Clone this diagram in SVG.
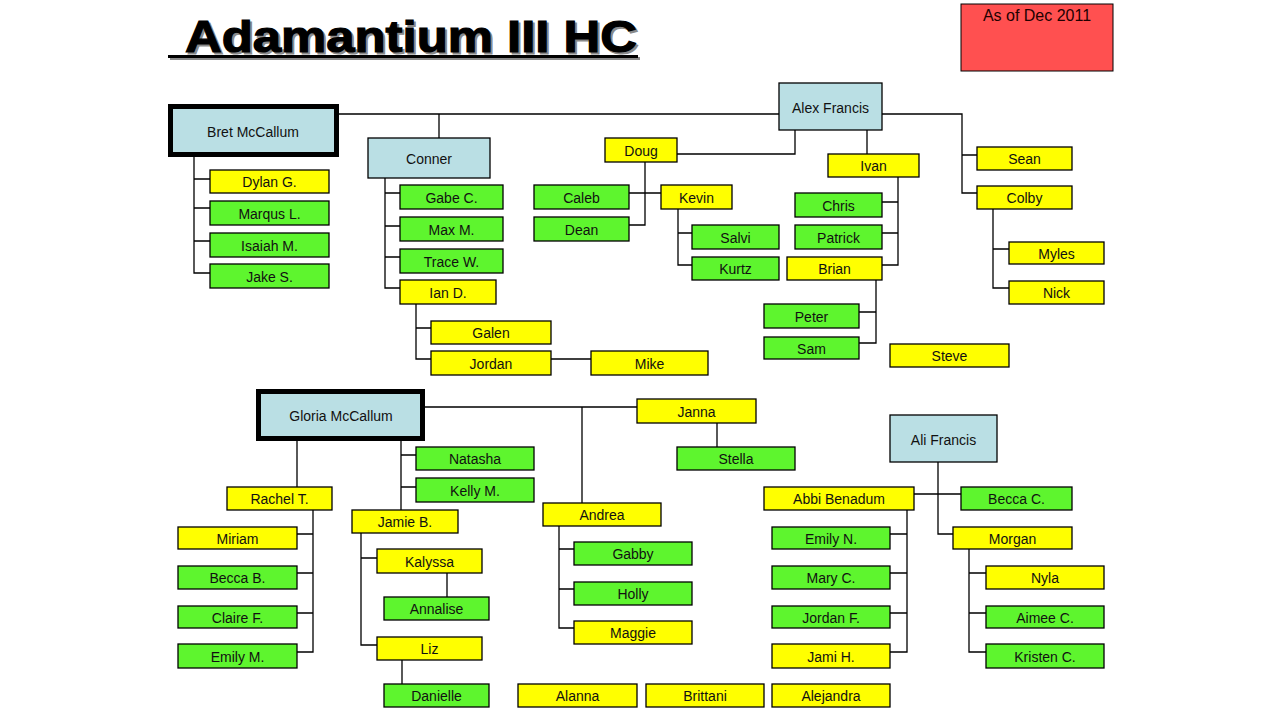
<svg xmlns="http://www.w3.org/2000/svg" width="1280" height="720" viewBox="0 0 1280 720">
<style>
rect.n{stroke:#000;stroke-width:1.3}
.y{fill:#FFFF00}.g{fill:#5EF52E}.b{fill:#BADFE4}
.thick{stroke:#000;stroke-width:5;fill:#BADFE4}
text.t{font-family:"Liberation Sans",Arial,sans-serif;font-size:14px;text-anchor:middle;fill:#111}
#connectors path{fill:none;stroke:#000;stroke-width:1.3}
</style>
<rect width="1280" height="720" fill="#fff"/>
<g id="title">
<text x="187" y="54" font-family="Liberation Sans,Arial,sans-serif" font-size="44" font-weight="bold" textLength="452" lengthAdjust="spacingAndGlyphs" fill="#8a8a8a" stroke="#8a8a8a" stroke-width="1.2">Adamantium III HC</text>
<rect x="170" y="57" width="470" height="3" fill="#8a8a8a"/>
<text x="185" y="52" font-family="Liberation Sans,Arial,sans-serif" font-size="44" font-weight="bold" textLength="452" lengthAdjust="spacingAndGlyphs" fill="#000" stroke="#000" stroke-width="1.2">Adamantium III HC</text>
<rect x="168" y="55" width="470" height="3" fill="#000"/>
</g>
<g id="asof">
<rect x="961" y="4" width="152" height="67" fill="#FF5050" stroke="#000" stroke-width="1"/>
<text x="1037" y="21" font-family="Liberation Sans,Arial,sans-serif" font-size="16" text-anchor="middle" fill="#220000">As of Dec 2011</text>
</g>
<g id="connectors">
<path d="M339 114H779M439 114V138M882 114H962V193H977M962 155H977"/>
<path d="M194 157V273H210M194 179H210M194 208H210M194 241H210"/>
<path d="M385 178V288H400M385 193H400M385 226H400M385 257H400"/>
<path d="M416 304V359H431M416 328H431M551 359H591"/>
<path d="M677 154H795V130M867 130V154"/>
<path d="M645 162V225H629M629 193H661"/>
<path d="M678 209V265H692M678 233H692"/>
<path d="M898 177V265H882M882 202H898M882 233H898"/>
<path d="M876 280V343H859M859 312H876"/>
<path d="M993 209V288H1009M993 249H1009"/>
<path d="M425 407H637M582 407V503M717 423V447"/>
<path d="M297 441V487M401 441V510M401 455H416M401 487H416"/>
<path d="M313 510V652H297M297 534H313M297 573H313M297 613H313"/>
<path d="M361 533V645H377M361 558H377M447 573V597M402 660V684"/>
<path d="M559 526V628H574M559 549H574M559 589H574"/>
<path d="M938 462V534H953M914 494H961"/>
<path d="M907 510V652H890M890 534H907M890 573H907M890 613H907"/>
<path d="M969 549V652H986M969 573H986M969 613H986"/>
</g>
<g id="bret"><rect class="thick" x="170.5" y="106.5" width="166" height="48"/><text class="t" x="253" y="137">Bret McCallum</text></g>
<g id="conner"><rect class="n b" x="368" y="138" width="122" height="40"/><text class="t" x="429" y="163.5">Conner</text></g>
<g id="dylan"><rect class="n y" x="210" y="170" width="119" height="23"/><text class="t" x="269.5" y="187">Dylan G.</text></g>
<g id="marqus"><rect class="n g" x="210" y="201" width="119" height="24"/><text class="t" x="269.5" y="218.5">Marqus L.</text></g>
<g id="isaiah"><rect class="n g" x="210" y="233" width="119" height="24"/><text class="t" x="269.5" y="250.5">Isaiah M.</text></g>
<g id="jake"><rect class="n g" x="210" y="264" width="119" height="24"/><text class="t" x="269.5" y="281.5">Jake S.</text></g>
<g id="gabe"><rect class="n g" x="400" y="185" width="103" height="24"/><text class="t" x="451.5" y="202.5">Gabe C.</text></g>
<g id="max"><rect class="n g" x="400" y="217" width="103" height="24"/><text class="t" x="451.5" y="234.5">Max M.</text></g>
<g id="trace"><rect class="n g" x="400" y="249" width="103" height="24"/><text class="t" x="451.5" y="266.5">Trace W.</text></g>
<g id="ian"><rect class="n y" x="400" y="280" width="96" height="24"/><text class="t" x="448" y="297.5">Ian D.</text></g>
<g id="galen"><rect class="n y" x="431" y="321" width="120" height="23"/><text class="t" x="491" y="338">Galen</text></g>
<g id="jordan"><rect class="n y" x="431" y="351" width="120" height="24"/><text class="t" x="491" y="368.5">Jordan</text></g>
<g id="mike"><rect class="n y" x="591" y="351" width="117" height="24"/><text class="t" x="649.5" y="368.5">Mike</text></g>
<g id="alex"><rect class="n b" x="779" y="83" width="103" height="47"/><text class="t" x="830.5" y="112.5">Alex Francis</text></g>
<g id="doug"><rect class="n y" x="605" y="138" width="72" height="24"/><text class="t" x="641" y="155.5">Doug</text></g>
<g id="caleb"><rect class="n g" x="534" y="185" width="95" height="24"/><text class="t" x="581.5" y="202.5">Caleb</text></g>
<g id="dean"><rect class="n g" x="534" y="217" width="95" height="24"/><text class="t" x="581.5" y="234.5">Dean</text></g>
<g id="kevin"><rect class="n y" x="661" y="185" width="71" height="24"/><text class="t" x="696.5" y="202.5">Kevin</text></g>
<g id="salvi"><rect class="n g" x="692" y="225" width="87" height="24"/><text class="t" x="735.5" y="242.5">Salvi</text></g>
<g id="kurtz"><rect class="n g" x="692" y="257" width="87" height="23"/><text class="t" x="735.5" y="274">Kurtz</text></g>
<g id="ivan"><rect class="n y" x="828" y="154" width="91" height="23"/><text class="t" x="873.5" y="171">Ivan</text></g>
<g id="chris"><rect class="n g" x="795" y="193" width="87" height="24"/><text class="t" x="838.5" y="210.5">Chris</text></g>
<g id="patrick"><rect class="n g" x="795" y="225" width="87" height="24"/><text class="t" x="838.5" y="242.5">Patrick</text></g>
<g id="brian"><rect class="n y" x="787" y="257" width="95" height="23"/><text class="t" x="834.5" y="274">Brian</text></g>
<g id="peter"><rect class="n g" x="764" y="304" width="95" height="24"/><text class="t" x="811.5" y="321.5">Peter</text></g>
<g id="sam"><rect class="n g" x="764" y="337" width="95" height="22"/><text class="t" x="811.5" y="353.5">Sam</text></g>
<g id="steve"><rect class="n y" x="890" y="344" width="119" height="23"/><text class="t" x="949.5" y="361">Steve</text></g>
<g id="sean"><rect class="n y" x="977" y="147" width="95" height="23"/><text class="t" x="1024.5" y="164">Sean</text></g>
<g id="colby"><rect class="n y" x="977" y="186" width="95" height="23"/><text class="t" x="1024.5" y="203">Colby</text></g>
<g id="myles"><rect class="n y" x="1009" y="242" width="95" height="22"/><text class="t" x="1056.5" y="258.5">Myles</text></g>
<g id="nick"><rect class="n y" x="1009" y="281" width="95" height="23"/><text class="t" x="1056.5" y="298">Nick</text></g>
<g id="gloria"><rect class="thick" x="258.5" y="391.5" width="164" height="47"/><text class="t" x="341" y="420.5">Gloria McCallum</text></g>
<g id="janna"><rect class="n y" x="637" y="399" width="119" height="24"/><text class="t" x="696.5" y="416.5">Janna</text></g>
<g id="stella"><rect class="n g" x="677" y="447" width="118" height="23"/><text class="t" x="736" y="464">Stella</text></g>
<g id="natasha"><rect class="n g" x="416" y="447" width="118" height="23"/><text class="t" x="475" y="464">Natasha</text></g>
<g id="kelly"><rect class="n g" x="416" y="478" width="118" height="24"/><text class="t" x="475" y="495.5">Kelly M.</text></g>
<g id="rachel"><rect class="n y" x="227" y="487" width="105" height="23"/><text class="t" x="279.5" y="504">Rachel T.</text></g>
<g id="jamie"><rect class="n y" x="352" y="510" width="106" height="23"/><text class="t" x="405" y="527">Jamie B.</text></g>
<g id="andrea"><rect class="n y" x="543" y="503" width="118" height="23"/><text class="t" x="602" y="520">Andrea</text></g>
<g id="miriam"><rect class="n y" x="178" y="527" width="119" height="22"/><text class="t" x="237.5" y="543.5">Miriam</text></g>
<g id="beccab"><rect class="n g" x="178" y="566" width="119" height="23"/><text class="t" x="237.5" y="583">Becca B.</text></g>
<g id="claire"><rect class="n g" x="178" y="606" width="119" height="22"/><text class="t" x="237.5" y="622.5">Claire F.</text></g>
<g id="emilym"><rect class="n g" x="178" y="644" width="119" height="24"/><text class="t" x="237.5" y="661.5">Emily M.</text></g>
<g id="kalyssa"><rect class="n y" x="377" y="549" width="105" height="24"/><text class="t" x="429.5" y="566.5">Kalyssa</text></g>
<g id="annalise"><rect class="n g" x="384" y="597" width="105" height="23"/><text class="t" x="436.5" y="614">Annalise</text></g>
<g id="liz"><rect class="n y" x="377" y="637" width="105" height="23"/><text class="t" x="429.5" y="654">Liz</text></g>
<g id="danielle"><rect class="n g" x="384" y="684" width="105" height="23"/><text class="t" x="436.5" y="701">Danielle</text></g>
<g id="gabby"><rect class="n g" x="574" y="542" width="118" height="23"/><text class="t" x="633" y="559">Gabby</text></g>
<g id="holly"><rect class="n g" x="574" y="582" width="118" height="23"/><text class="t" x="633" y="599">Holly</text></g>
<g id="maggie"><rect class="n y" x="574" y="621" width="118" height="23"/><text class="t" x="633" y="638">Maggie</text></g>
<g id="alanna"><rect class="n y" x="518" y="684" width="119" height="23"/><text class="t" x="577.5" y="701">Alanna</text></g>
<g id="brittani"><rect class="n y" x="646" y="684" width="118" height="23"/><text class="t" x="705" y="701">Brittani</text></g>
<g id="alejandra"><rect class="n y" x="772" y="684" width="118" height="23"/><text class="t" x="831" y="701">Alejandra</text></g>
<g id="ali"><rect class="n b" x="890" y="415" width="107" height="47"/><text class="t" x="943.5" y="444.5">Ali Francis</text></g>
<g id="abbi"><rect class="n y" x="764" y="487" width="150" height="23"/><text class="t" x="839" y="504">Abbi Benadum</text></g>
<g id="beccac"><rect class="n g" x="961" y="487" width="111" height="23"/><text class="t" x="1016.5" y="504">Becca C.</text></g>
<g id="morgan"><rect class="n y" x="953" y="527" width="119" height="22"/><text class="t" x="1012.5" y="543.5">Morgan</text></g>
<g id="emilyn"><rect class="n g" x="772" y="527" width="118" height="22"/><text class="t" x="831" y="543.5">Emily N.</text></g>
<g id="maryc"><rect class="n g" x="772" y="566" width="118" height="23"/><text class="t" x="831" y="583">Mary C.</text></g>
<g id="jordanf"><rect class="n g" x="772" y="606" width="118" height="22"/><text class="t" x="831" y="622.5">Jordan F.</text></g>
<g id="jamih"><rect class="n y" x="772" y="644" width="118" height="24"/><text class="t" x="831" y="661.5">Jami H.</text></g>
<g id="nyla"><rect class="n y" x="986" y="566" width="118" height="23"/><text class="t" x="1045" y="583">Nyla</text></g>
<g id="aimee"><rect class="n g" x="986" y="606" width="118" height="22"/><text class="t" x="1045" y="622.5">Aimee C.</text></g>
<g id="kristen"><rect class="n g" x="986" y="644" width="118" height="24"/><text class="t" x="1045" y="661.5">Kristen C.</text></g>
</svg>
